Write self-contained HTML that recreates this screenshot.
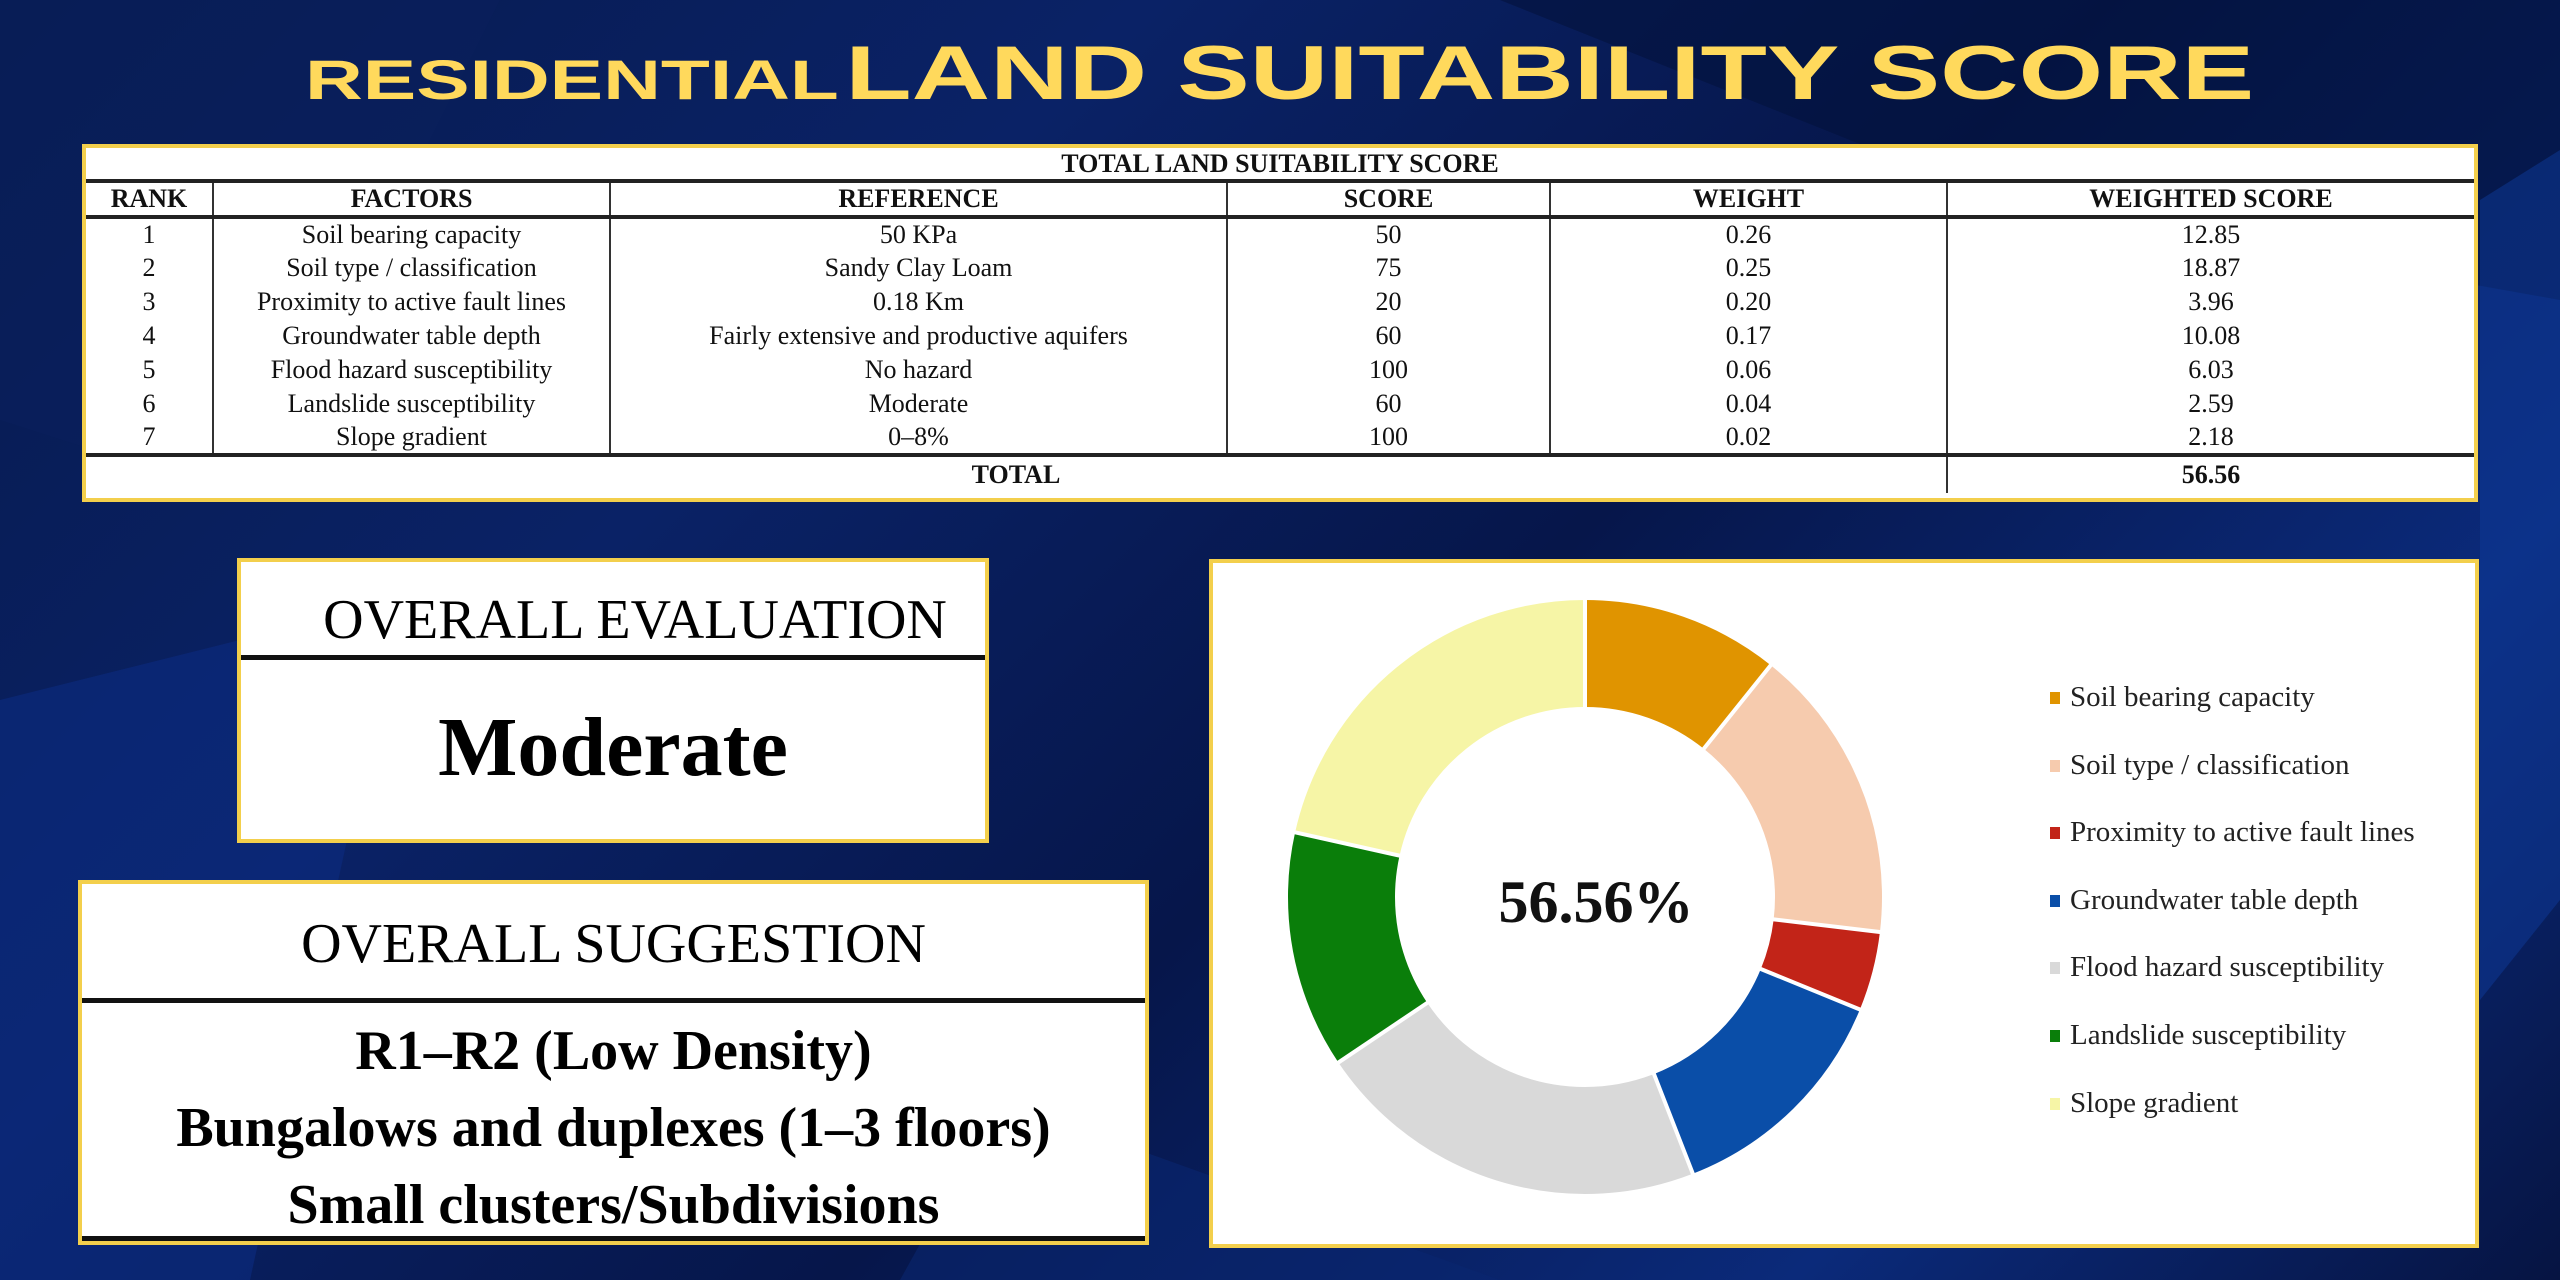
<!DOCTYPE html>
<html><head><meta charset="utf-8"><style>
*{margin:0;padding:0;box-sizing:border-box}
body{width:2560px;height:1280px;overflow:hidden;position:relative;font-family:"Liberation Serif",serif;
background:linear-gradient(135deg,#071a4e 0%,#0a2266 30%,#06164a 55%,#0b2a7a 80%,#061442 100%);}
.poly{position:absolute;inset:0}
.title{position:absolute;left:0;top:30px;width:2560px;text-align:center;color:#FFD95C;font-family:"Liberation Sans",sans-serif;font-weight:bold;white-space:nowrap}
.title>span{display:inline-block;transform:scaleX(1.43);transform-origin:center}
.box{position:absolute;background:#fff;border:4px solid #F3CF4C}
table{border-collapse:collapse;width:100%;font-size:26px;color:#111}
td{text-align:center;border-left:2px solid #333;height:34px;padding:0}
td:first-child{border-left:none}
.hd td{font-weight:bold;height:36px;border-bottom:4px solid #222}
.tt td{font-weight:bold;height:33px;border-bottom:4px solid #222}
.tot td{font-weight:bold;height:38px;border-top:4px solid #222}
.c{position:absolute;left:0;width:100%;text-align:center;color:#000}
.leg{position:absolute;left:2050px;font-size:29px;color:#222}
.leg i{display:inline-block;width:10px;height:12px;margin-right:10px;vertical-align:2px}
</style></head><body>
<svg class="poly" width="2560" height="1280">
<polygon points="0,0 500,0 250,500 0,420" fill="#0a1f5c" opacity=".6"/>
<polygon points="1500,0 2560,0 2560,300 2000,200" fill="#04123c" opacity=".6"/>
<polygon points="0,700 400,600 250,1280 0,1280" fill="#0c2b80" opacity=".6"/>
<polygon points="2480,200 2560,150 2560,900 2480,1000" fill="#0d3a9a" opacity=".5"/>
<polygon points="1000,1100 1500,1280 900,1280" fill="#0a2770" opacity=".6"/>
</svg>
<div class="title"><span><span style="font-size:56px">RESIDENTIAL</span>&nbsp;<span style="font-size:76px">LAND SUITABILITY SCORE</span></span></div>

<div class="box" style="left:82px;top:144px;width:2396px;height:358px">
<table>
<colgroup><col style="width:127px"><col style="width:397px"><col style="width:617px"><col style="width:323px"><col style="width:397px"><col></colgroup>
<tr class="tt"><td colspan="6" style="border:none;border-bottom:4px solid #222">TOTAL LAND SUITABILITY SCORE</td></tr>
<tr class="hd"><td>RANK</td><td>FACTORS</td><td>REFERENCE</td><td>SCORE</td><td>WEIGHT</td><td>WEIGHTED SCORE</td></tr>
<tr><td>1</td><td>Soil bearing capacity</td><td>50 KPa</td><td>50</td><td>0.26</td><td>12.85</td></tr>
<tr><td>2</td><td>Soil type / classification</td><td>Sandy Clay Loam</td><td>75</td><td>0.25</td><td>18.87</td></tr>
<tr><td>3</td><td>Proximity to active fault lines</td><td>0.18 Km</td><td>20</td><td>0.20</td><td>3.96</td></tr>
<tr><td>4</td><td>Groundwater table depth</td><td>Fairly extensive and productive aquifers</td><td>60</td><td>0.17</td><td>10.08</td></tr>
<tr><td>5</td><td>Flood hazard susceptibility</td><td>No hazard</td><td>100</td><td>0.06</td><td>6.03</td></tr>
<tr><td>6</td><td>Landslide susceptibility</td><td>Moderate</td><td>60</td><td>0.04</td><td>2.59</td></tr>
<tr><td>7</td><td>Slope gradient</td><td>0–8%</td><td>100</td><td>0.02</td><td>2.18</td></tr>
<tr class="tot"><td colspan="5" style="border-left:none">TOTAL</td><td>56.56</td></tr>
</table></div>

<div class="box" style="left:237px;top:558px;width:752px;height:285px">
<div class="c" style="top:26px;font-size:56px;padding-left:44px">OVERALL EVALUATION</div>
<div style="position:absolute;left:0;right:0;top:93px;height:5px;background:#111"></div>
<div class="c" style="top:137px;font-size:84px;font-weight:bold">Moderate</div>
</div>

<div class="box" style="left:78px;top:880px;width:1071px;height:365px">
<div class="c" style="top:28px;font-size:56px">OVERALL SUGGESTION</div>
<div style="position:absolute;left:0;right:0;top:114px;height:5px;background:#111"></div>
<div class="c" style="top:129px;font-size:56px;font-weight:bold;line-height:77px">R1–R2 (Low Density)<br>Bungalows and duplexes (1–3 floors)<br>Small clusters/Subdivisions</div>
<div style="position:absolute;left:0;right:0;bottom:0;height:5px;background:#111"></div>
</div>

<div class="box" style="left:1209px;top:559px;width:1270px;height:689px"></div>
<svg style="position:absolute;left:0;top:0" width="2560" height="1280">
<g transform="translate(1585,897) rotate(-90)" fill="none" stroke-width="107">
<circle r="243.5" stroke="#E09400" stroke-dasharray="164.5 2000" stroke-dashoffset="0"/>
<circle r="243.5" stroke="#F6CBAE" stroke-dasharray="246.8 2000" stroke-dashoffset="-164.5"/>
<circle r="243.5" stroke="#C22418" stroke-dasharray="65.8 2000" stroke-dashoffset="-411.3"/>
<circle r="243.5" stroke="#0A4EA8" stroke-dasharray="197.4 2000" stroke-dashoffset="-477.1"/>
<circle r="243.5" stroke="#D9D9D9" stroke-dasharray="329 2000" stroke-dashoffset="-674.5"/>
<circle r="243.5" stroke="#0A7E0A" stroke-dasharray="197.4 2000" stroke-dashoffset="-1003.5"/>
<circle r="243.5" stroke="#F6F5A6" stroke-dasharray="329 2000" stroke-dashoffset="-1200.9"/>
</g>
<g transform="translate(1585,897)" stroke="#fff" stroke-width="4">
<line x1="0" y1="-188" x2="0" y2="-300" transform="rotate(0)"/>
<line x1="0" y1="-188" x2="0" y2="-300" transform="rotate(38.71)"/>
<line x1="0" y1="-188" x2="0" y2="-300" transform="rotate(96.77)"/>
<line x1="0" y1="-188" x2="0" y2="-300" transform="rotate(112.26)"/>
<line x1="0" y1="-188" x2="0" y2="-300" transform="rotate(158.71)"/>
<line x1="0" y1="-188" x2="0" y2="-300" transform="rotate(236.13)"/>
<line x1="0" y1="-188" x2="0" y2="-300" transform="rotate(282.58)"/>
</g>
<text x="1596" y="922" text-anchor="middle" font-family="Liberation Serif" font-weight="bold" font-size="60" fill="#111">56.56%</text>
</svg>
<div class="leg" style="top:681px"><i style="background:#E09400"></i>Soil bearing capacity</div>
<div class="leg" style="top:749px"><i style="background:#F6CBAE"></i>Soil type / classification</div>
<div class="leg" style="top:816px"><i style="background:#C22418"></i>Proximity to active fault lines</div>
<div class="leg" style="top:884px"><i style="background:#0A4EA8"></i>Groundwater table depth</div>
<div class="leg" style="top:951px"><i style="background:#D9D9D9"></i>Flood hazard susceptibility</div>
<div class="leg" style="top:1019px"><i style="background:#0A7E0A"></i>Landslide susceptibility</div>
<div class="leg" style="top:1087px"><i style="background:#F6F5A6"></i>Slope gradient</div>
</body></html>
